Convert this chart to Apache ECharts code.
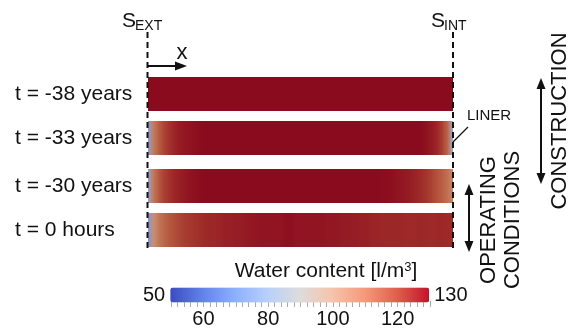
<!DOCTYPE html>
<html><head><meta charset="utf-8">
<script src="https://cdn.jsdelivr.net/npm/echarts@6/dist/echarts.min.js"></script>
<style>html,body{margin:0;padding:0;background:#fff}#c{width:571px;height:336px}</style>
</head><body><div id="c"></div>
<script>
// ---- data ----
var rowLabels = ['t = -38 years', 't = -33 years', 't = -30 years', 't = 0 hours'];
var wc38 = [130,130,130,130,130,130,130,130,130,130,130,130,130,130,130,130,130,130,130,130,130,130,130,130,130,130,130,130,130,130,130,130,130,130,130,130,130,130,130,130,130,130,130,130,130,130,130,130,130,130,130,130,130,130,130,130,130,130,130,130,130];
var wc33 = [72,102,109,114,118,121,124,126,127,128,129,130,130,130,130,130,130,130,130,130,130,130,130,130,130,130,130,130,130,130,130,130,130,130,130,130,130,130,130,130,130,130,130,130,130,130,130,130,130,130,130,130,130,130,129,127,124,120,114,106,78];
var wc30 = [74,103,110,115,118,121,123,125,127,128,129,130,130,130,130,130,130,130,130,130,130,130,130,130,130,130,130,130,130,130,130,130,130,130,130,130,130,130,130,130,130,130,130,130,130,130,129,129,128,127,126,125,123,121,119,117,114,111,108,104,100];
var wc0 = [70,97,103,107,110,112,114,116,117,118,119,120,121,121,122,123,123,124,124,125,126,126,127,127,127,127,127,128,128,127,127,127,127,127,127,126,126,126,125,125,124,124,123,123,122,122,121,121,121,121,121,120,120,121,121,120,120,121,121,120,120];
var profiles = [wc38, wc33, wc30, wc0];
var wcMin = 50, wcMax = 130;
var colorbarTickLabels = [60, 80, 100, 120];

// ---- layout ----
var barLeft = 148, barWidth = 305, barHeight = 34;
var barTops = [77, 121, 169, 213];
var FONT = 'Liberation Sans, Arial, sans-serif';
var INK = '#111';
var barColors = ['#3b4cc0', '#5b6fcf', '#8494cf', '#aab2c8', '#c8ad9c', '#c88464', '#b65a40', '#9e2a28', '#8a0a1e'];
var barColorsShown = ['#3b4cc0', '#6282ea', '#8db0fe', '#b8d0f9', '#dddcdc', '#f5c4ac', '#f49a7b', '#de604d', '#c4122c'];

function cmap(v) {
  var t = Math.max(0, Math.min(1, (v - wcMin) / (wcMax - wcMin)));
  return echarts.color.lerp(t, barColors);
}

var grids = [], xAxes = [], yAxes = [], series = [];
profiles.forEach(function (p, r) {
  grids.push({ left: barLeft, width: barWidth, top: barTops[r], height: barHeight });
  xAxes.push({ type: 'value', gridIndex: r, min: 0, max: p.length - 1, show: false });
  yAxes.push({ type: 'category', gridIndex: r, data: [rowLabels[r]],
    axisLine: { show: false }, axisTick: { show: false }, splitLine: { show: false },
    axisLabel: { fontSize: 21, color: INK, fontFamily: FONT, align: 'left', margin: barLeft - 15 } });
  series.push({ type: 'custom', xAxisIndex: r, yAxisIndex: r, silent: true,
    data: p.map(function (v, i) { return [i, 0, v]; }),
    renderItem: (function (prof) {
      return function (params, api) {
        var i = api.value(0);
        if (i >= prof.length - 1) return;
        var p0 = api.coord([i, 0]);
        var p1 = api.coord([i + 1, 0]);
        var h = api.size([0, 1])[1];
        var extra = (i < prof.length - 2) ? 1 : 0;
        return {
          type: 'rect',
          shape: { x: p0[0], y: p0[1] - h / 2, width: p1[0] - p0[0] + extra, height: h },
          style: { fill: new echarts.graphic.LinearGradient(0, 0, 1, 0, [
            { offset: 0, color: cmap(prof[i]) }, { offset: 1, color: cmap(prof[i + 1]) }]) }
        };
      };
    })(p) });
});
// colour bar tick axis
grids.push({ left: 171, width: 259, top: 300, height: 1 });
xAxes.push({ type: 'value', gridIndex: 4, min: wcMin, max: wcMax, interval: 10,
  axisLine: { show: false },
  axisTick: { show: true, length: 6, lineStyle: { color: '#aaa', width: 1 } },
  minorTick: { show: true, splitNumber: 5, length: 6, lineStyle: { color: '#aaa', width: 1 } },
  splitLine: { show: false }, minorSplitLine: { show: false },
  axisLabel: { fontSize: 20, color: INK, fontFamily: FONT, margin: 8,
    formatter: function (v) { return colorbarTickLabels.indexOf(v) >= 0 ? String(v) : ''; } } });
yAxes.push({ type: 'value', gridIndex: 4, show: false });
series.push({ type: 'scatter', xAxisIndex: 4, yAxisIndex: 4, data: [], silent: true });

function vline(x, y1, y2) {
  return { type: 'line', shape: { x1: x, y1: y1, x2: x, y2: y2 },
    style: { stroke: INK, lineWidth: 2, lineDash: [6, 4] }, silent: true, z: 10 };
}
function arrowV(x, y1, y2) {
  return [
    { type: 'line', shape: { x1: x, y1: y1 + 6, x2: x, y2: y2 - 6 }, style: { stroke: INK, lineWidth: 2 } },
    { type: 'polygon', shape: { points: [[x, y1], [x - 4.5, y1 + 11], [x + 4.5, y1 + 11]] }, style: { fill: INK } },
    { type: 'polygon', shape: { points: [[x, y2], [x - 4.5, y2 - 11], [x + 4.5, y2 - 11]] }, style: { fill: INK } }
  ];
}
var graphics = [
  vline(147.5, 32, 252), vline(453, 32, 252),
  { type: 'text', x: 122, y: 11, style: { text: 'S', fontSize: 21, fill: INK, fontFamily: FONT } },
  { type: 'text', x: 135, y: 19, style: { text: 'EXT', fontSize: 14, fill: INK, fontFamily: FONT } },
  { type: 'text', x: 431, y: 11, style: { text: 'S', fontSize: 21, fill: INK, fontFamily: FONT } },
  { type: 'text', x: 444, y: 19, style: { text: 'INT', fontSize: 14, fill: INK, fontFamily: FONT } },
  { type: 'text', x: 182, y: 53, style: { text: 'x', fontSize: 22, fill: INK, fontFamily: FONT, align: 'center', verticalAlign: 'middle' } },
  { type: 'line', shape: { x1: 148, y1: 66, x2: 178, y2: 66 }, style: { stroke: INK, lineWidth: 2 } },
  { type: 'polygon', shape: { points: [[187, 66], [175, 61.5], [175, 70.5]] }, style: { fill: INK } },
  { type: 'text', x: 467, y: 108, style: { text: 'LINER', fontSize: 15, fill: INK, fontFamily: FONT } },
  { type: 'line', shape: { x1: 468, y1: 127, x2: 453, y2: 142 }, style: { stroke: INK, lineWidth: 1.2 } },
  { type: 'text', x: 501, y: 220, rotation: Math.PI / 2,
    style: { text: 'OPERATING\nCONDITIONS', fontSize: 22, lineHeight: 24, fill: INK, fontFamily: FONT, align: 'center', verticalAlign: 'middle' } },
  { type: 'text', x: 560, y: 121, rotation: Math.PI / 2,
    style: { text: 'CONSTRUCTION', fontSize: 22, fill: INK, fontFamily: FONT, align: 'center', verticalAlign: 'middle' } },
  { type: 'text', x: 326, y: 271, style: { text: 'Water content [l/m{sup|3}]', fontSize: 21, fill: INK, fontFamily: FONT, align: 'center', verticalAlign: 'middle',
      rich: { sup: { fontSize: 13, verticalAlign: 'top', padding: [0, 0, 8, 0], fill: INK, fontFamily: FONT } } } }
];
graphics = graphics.concat(arrowV(469, 184, 252), arrowV(541, 78, 184));

var chart = echarts.init(document.getElementById('c'), null, { renderer: 'canvas' });
chart.setOption({
  animation: false,
  backgroundColor: '#fff',
  grid: grids, xAxis: xAxes, yAxis: yAxes, series: series,
  visualMap: [
    { type: 'continuous', show: true, min: wcMin, max: wcMax, seriesIndex: [4], calculable: false,
      orient: 'horizontal', left: 143, top: 285, padding: 0, itemWidth: 15, itemHeight: 259, textGap: 5,
      text: [String(wcMax), String(wcMin)],
      textStyle: { fontSize: 20, color: INK, fontFamily: FONT },
      inRange: { color: barColorsShown } }
  ],
  graphic: graphics
});
</script></body></html>
